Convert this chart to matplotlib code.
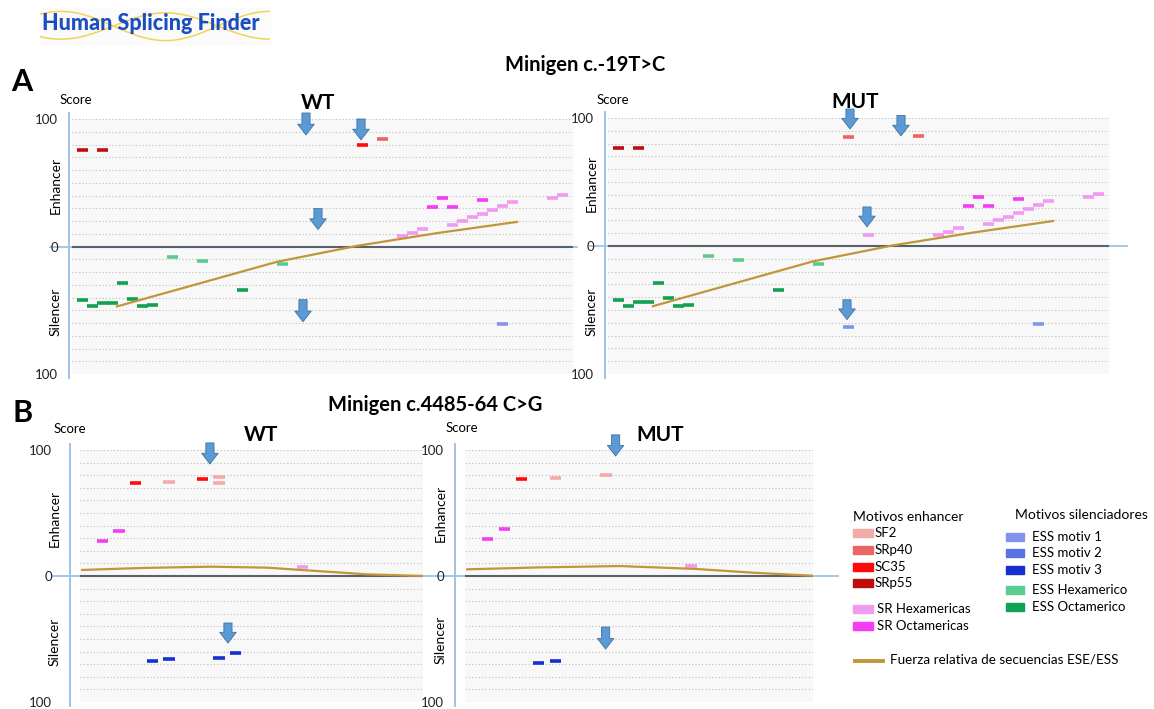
import numpy as np
import matplotlib
matplotlib.use('Agg')
import matplotlib.pyplot as plt
from matplotlib.patches import Rectangle
from matplotlib.lines import Line2D

plt.rcParams['font.family'] = ['Lato', 'DejaVu Sans']

W, H = 1154, 709

# ---------------- data (position, score) ----------------
# Panel A : Minigen c.-19T>C  (WT)
a_wt_srp55 = ([1, 3], [76, 76])
a_wt_sc35 = ([29], [79.5])
a_wt_srp40 = ([31], [84.4])
a_wt_srhex = ([33, 34, 35, 38, 39, 40, 41, 42, 43, 44, 48, 49],
              [8, 10.7, 13.8, 17, 19.8, 22.9, 25.8, 28.9, 31.8, 34.6, 37.7, 40.6])
a_wt_sroct = ([36, 37, 38, 41], [30.7, 38, 31.2, 36.7])
a_wt_essoct = ([1, 2, 3, 4, 5, 6, 7, 8, 17], [-42, -47, -44, -44, -29, -41, -47, -46, -34])
a_wt_esshex = ([10, 13, 21], [-8, -11, -14])
a_wt_ess1 = ([43], [-61])
a_wt_line = ([4.5, 12.5, 20.5, 28.5, 36.5, 44.5], [-47, -29.5, -12, 0.5, 10.5, 19.3])
a_wt_arrows = [(23.4, 104.7, 87.5), (28.9, 100, 83.6), (24.6, 29.7, 13.3), (23.1, -41.7, -59)]

# Panel A : MUT
a_mut_srp55 = ([1, 3], [76.5, 76.5])
a_mut_srp40 = ([24, 31], [85.4, 85.9])
a_mut_srhex = ([26, 33, 34, 35, 38, 39, 40, 41, 42, 43, 44, 48, 49],
               [8.8, 8.8, 10.8, 14.4, 17, 20, 23, 26, 29, 32, 35, 38, 41])
a_mut_sroct = ([36, 37, 38, 41], [30.9, 38.5, 31.5, 36.9])
a_mut_essoct = ([1, 2, 3, 4, 5, 6, 7, 8, 17], [-42, -47, -44, -44, -29, -41, -47, -46, -34])
a_mut_esshex = ([10, 13, 21], [-8, -11, -14])
a_mut_ess1 = ([24, 43], [-63, -61])
a_mut_line = ([4.5, 12.5, 20.5, 28.5, 36.5, 44.5], [-47, -29.5, -12, 0.5, 10.5, 19.5])
a_mut_arrows = [(24.2, 107, 91.4), (29.3, 102, 86), (25.9, 30.5, 15), (23.9, -42, -57.5)]

# Panel B : Minigen c.4485-64 C>G  (WT)
b_wt_sroct = ([1, 2], [27.8, 35.7])
b_wt_sc35 = ([3, 7], [73.8, 76.7])
b_wt_sf2 = ([5, 8, 8], [74.4, 78.3, 73.6])
b_wt_srhex = ([13], [7.4])
b_wt_ess3 = ([4, 5, 8, 9], [-67.2, -65.9, -64.8, -61.3])
b_wt_line = ([-0.2, 3.5, 7.5, 10.9, 12.9, 16.9, 20.2], [4.8, 6.4, 7.4, 6.6, 4.8, 1.3, 0])
b_wt_arrows = [(7.45, 105.6, 88.9), (8.53, -37.3, -53.2)]

# Panel B : MUT
b_mut_sroct = ([1, 2], [29.1, 37.3])
b_mut_sc35 = ([3], [77])
b_mut_sf2 = ([5, 8], [77.5, 80.2])
b_mut_srhex = ([13], [8.2])
b_mut_ess3 = ([4, 5], [-69.3, -67.5])
b_mut_line = ([-0.2, 4.0, 8.8, 13.3, 16.7, 20.2], [5.3, 6.8, 7.9, 5.6, 2.6, 0.2])
b_mut_arrows = [(8.56, 112, 95.2), (7.97, -40.5, -58)]

# legend entries
enh_labels = ['SF2', 'SRp40', 'SC35', 'SRp55', 'SR Hexamericas', 'SR Octamericas']
sil_labels = ['ESS motiv 1', 'ESS motiv 2', 'ESS motiv 3', 'ESS Hexamerico', 'ESS Octamerico']

# ---------------- styles ----------------
C = {
    'SF2': '#f5aaaa', 'SRp40': '#ec6464', 'SC35': '#ff0a0a', 'SRp55': '#bf0d0d',
    'SR Hexamericas': '#f09af0', 'SR Octamericas': '#f43cf4',
    'ESS motiv 1': '#8194ee', 'ESS motiv 2': '#5a72e4', 'ESS motiv 3': '#1530cf',
    'ESS Hexamerico': '#5ccb90', 'ESS Octamerico': '#12a052',
}
LINE_C = '#c0963a'
AX_BLUE = '#9dc3e6'
ARROW_FC = '#5b9bd5'
ARROW_EC = '#41719c'

fig = plt.figure(figsize=(W / 100, H / 100), dpi=100)


def fx(px):
    return px / W


def fy(py):
    return 1 - py / H


def panel(left, right, top, bottom, xlim, series, line, arrows, dash_w,
          vaxis_px, zero_ext, vaxis_y, tick_pad):
    ax = fig.add_axes([fx(left), fy(bottom), (right - left) / W, (bottom - top) / H])
    ax.set_xlim(*xlim)
    ax.set_ylim(-100, 100)
    ax.set_facecolor('#f8f8f8')
    for s in ax.spines.values():
        s.set_visible(False)
    ax.set_xticks([])
    ax.set_yticks([100, 0, -100])
    ax.set_yticklabels(['100', '0', '100'], fontsize=9.5, color='#222222')
    ax.tick_params(axis='y', length=0, pad=tick_pad)
    for v in range(-100, 101, 10):
        if v != 0:
            ax.axhline(v, color='#bdbdbd', lw=0.8, ls=(0, (1, 2)), zorder=1)
    wpx = right - left
    tr = ax.get_yaxis_transform()
    ax.plot([(zero_ext[0] - left) / wpx, (zero_ext[1] - left) / wpx], [0, 0],
            transform=tr, clip_on=False, color=AX_BLUE, lw=1.3, zorder=1.5)
    ax.axhline(0, color='#56626e', lw=1.5, zorder=2)
    vx = (vaxis_px - left) / wpx
    ax.plot([vx, vx], list(vaxis_y), transform=tr, clip_on=False,
            color=AX_BLUE, lw=1.4, zorder=1.5)
    for (xs, ys), name in series:
        xs = np.asarray(xs, float)
        ax.hlines(ys, xs - dash_w / 2, xs + dash_w / 2, color=C[name], lw=2.6, zorder=3)
    ax.plot(line[0], line[1], color=LINE_C, lw=1.6, zorder=4)
    for x, y0, y1 in arrows:
        ax.annotate('', xy=(x, y1), xytext=(x, y0), annotation_clip=False,
                    arrowprops=dict(arrowstyle='simple,head_length=0.55,head_width=0.85,tail_width=0.42',
                                    fc=ARROW_FC, ec=ARROW_EC, lw=0.6, shrinkA=0, shrinkB=0,
                                    mutation_scale=14), zorder=5)
    return ax


# Panel A
panel(72, 573, 119, 374, (0, 50.1),
      [(a_wt_srp55, 'SRp55'), (a_wt_sc35, 'SC35'), (a_wt_srp40, 'SRp40'),
       (a_wt_srhex, 'SR Hexamericas'), (a_wt_sroct, 'SR Octamericas'),
       (a_wt_essoct, 'ESS Octamerico'), (a_wt_esshex, 'ESS Hexamerico'),
       (a_wt_ess1, 'ESS motiv 1')],
      a_wt_line, a_wt_arrows, 1.1, 69, (50, 577), (104.7, -103), 10)
panel(608, 1109, 118, 374, (0, 50.1),
      [(a_mut_srp55, 'SRp55'), (a_mut_srp40, 'SRp40'),
       (a_mut_srhex, 'SR Hexamericas'), (a_mut_sroct, 'SR Octamericas'),
       (a_mut_essoct, 'ESS Octamerico'), (a_mut_esshex, 'ESS Hexamerico'),
       (a_mut_ess1, 'ESS motiv 1')],
      a_mut_line, a_mut_arrows, 1.1, 605, (590, 1127), (104.7, -103), 10)

# Panel B
panel(80, 423, 450, 702, (-0.33, 20.21),
      [(b_wt_sroct, 'SR Octamericas'), (b_wt_sc35, 'SC35'), (b_wt_sf2, 'SF2'),
       (b_wt_srhex, 'SR Hexamericas'), (b_wt_ess3, 'ESS motiv 3')],
      b_wt_line, b_wt_arrows, 0.68, 70, (52, 440), (105, -103), 20)
panel(465, 813, 450, 702, (-0.33, 20.21),
      [(b_mut_sroct, 'SR Octamericas'), (b_mut_sc35, 'SC35'), (b_mut_sf2, 'SF2'),
       (b_mut_srhex, 'SR Hexamericas'), (b_mut_ess3, 'ESS motiv 3')],
      b_mut_line, b_mut_arrows, 0.68, 455, (440, 838), (105, -103), 15)

# ---------------- texts ----------------
def t(px, py, s, **kw):
    kw.setdefault('ha', 'center')
    kw.setdefault('va', 'center')
    fig.text(fx(px), fy(py), s, **kw)


t(22, 82, 'A', fontsize=22, fontweight='bold')
t(23, 413, 'B', fontsize=22, fontweight='bold')
t(585, 65, 'Minigen c.-19T>C', fontsize=14.5, fontweight='bold')
t(435, 405, 'Minigen c.4485-64 C>G', fontsize=14.5, fontweight='bold')
t(318, 103, 'WT', fontsize=15, fontweight='bold')
t(855, 102, 'MUT', fontsize=15, fontweight='bold')
t(261, 435, 'WT', fontsize=15, fontweight='bold')
t(660, 435, 'MUT', fontsize=15, fontweight='bold')
for (sx, sy) in [(76, 100), (613, 100), (70, 429), (462, 428)]:
    t(sx, sy, 'Score', fontsize=9.5)
for (ex, ey, sy2) in [(56, 185, 312), (592, 183, 312), (55, 518, 642), (441, 513, 640)]:
    t(ex, ey, 'Enhancer', fontsize=10, rotation=90)
    t(ex, sy2, 'Silencer', fontsize=10, rotation=90)

# logo
fig.add_artist(Rectangle((fx(40), fy(45)), 230 / W, 37 / H, transform=fig.transFigure,
                         color='#fbfbfb', zorder=0))
lax = fig.add_axes([fx(40), fy(45), 230 / W, 38 / H])
lax.set_xlim(0, 1)
lax.set_ylim(-1.3, 1.3)
lax.axis('off')
u = np.linspace(0, 1, 200)
lax.plot(u, np.sin(2 * np.pi * (1.1 * u + 0.15)), color='#f2cf45', lw=1.1, alpha=0.9)
lax.plot(u, 0.9 * np.sin(2 * np.pi * (1.1 * u + 0.65)), color='#f2cf45', lw=1.1, alpha=0.9)
t(42, 24, 'Human Splicing Finder', ha='left', fontsize=15.5, fontweight='black', color='#1a4cc2')

# ---------------- legend ----------------
t(853, 517, 'Motivos enhancer', ha='left', fontsize=10)
t(1015, 515, 'Motivos silenciadores', ha='left', fontsize=10)
enh_y = [533, 550, 567, 583, 609, 626]
for lab, yy in zip(enh_labels, enh_y):
    fig.add_artist(Rectangle((fx(853), fy(yy + 4)), 20 / W, 8 / H, transform=fig.transFigure,
                             color=C[lab]))
    t(875 if yy < 600 else 877, yy, lab, ha='left', fontsize=9.5)
sil_y = [537, 553, 570, 590, 607]
for lab, yy in zip(sil_labels, sil_y):
    fig.add_artist(Rectangle((fx(1006), fy(yy + 4)), 18 / W, 8 / H, transform=fig.transFigure,
                             color=C[lab]))
    t(1032, yy, lab, ha='left', fontsize=9.5)
fig.add_artist(Line2D([fx(855), fx(883)], [fy(661), fy(661)], transform=fig.transFigure,
                      color=LINE_C, lw=2.8))
t(890, 659, 'Fuerza relativa de secuencias ESE/ESS', ha='left', fontsize=9.7)

fig.savefig('out.png', dpi=100)
